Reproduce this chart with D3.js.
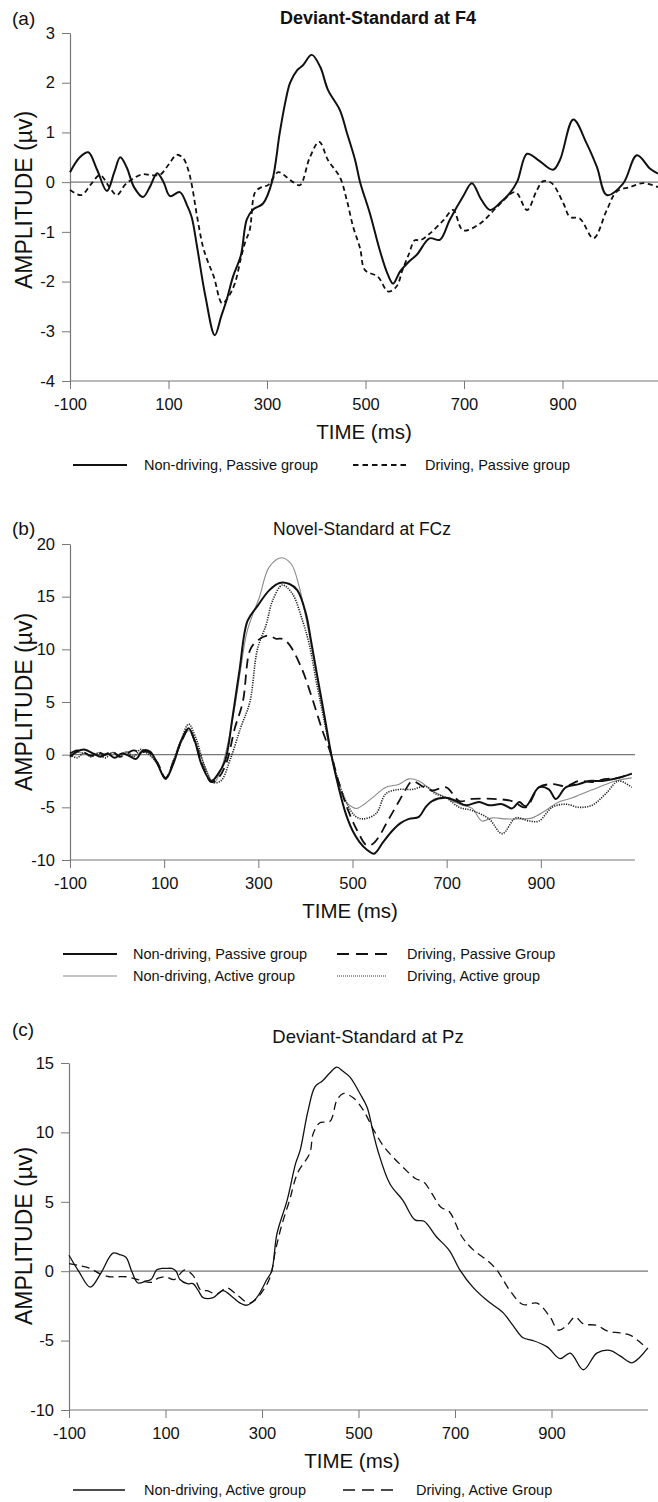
<!DOCTYPE html>
<html>
<head>
<meta charset="utf-8">
<script src="https://cdn.jsdelivr.net/npm/d3@7"></script>
<style>
  html, body { margin: 0; padding: 0; background: #fff; }
  svg { display: block; font-family: "Liberation Sans", Arial, sans-serif; }
  .axis path, .axis line { stroke: #777; }
  .axis text { fill: #111; font-size: 16.5px; }
</style>
</head>
<body>
<div id="chart"></div>
<script>
// ---- data (time in ms, amplitude in µV) ----
const xTicks = [-100, 100, 300, 500, 700, 900];

// (a) Deviant-Standard at F4
const aTicksY = [3, 2, 1, 0, -1, -2, -3, -4];
const aNonDrivingPassive = [
  [-100,0.2],[-80,0.5],[-63,0.6],[-45,0.25],[-25,-0.18],[-10,0.2],[2,0.5],[15,0.3],[30,-0.1],[48,-0.3],
  [62,-0.1],[77,0.18],[90,0.0],[103,-0.28],[123,-0.2],[137,-0.45],[147,-0.7],[158,-1.3],[175,-2.3],[194,-3.08],
  [207,-2.7],[218,-2.37],[231,-1.9],[247,-1.47],[259,-0.75],[272,-0.55],[292,-0.43],[310,0],[326,1.0],[337,1.6],
  [347,2.0],[361,2.25],[373,2.35],[391,2.56],[408,2.32],[424,1.85],[448,1.45],[462,1.0],[479,0.44],[489,0],
  [509,-0.63],[529,-1.37],[545,-1.85],[556,-2.04],[570,-1.8],[588,-1.6],[605,-1.45],[630,-1.13],[651,-1.16],[671,-0.76],
  [698,-0.29],[716,-0.02],[735,-0.35],[753,-0.56],[775,-0.4],[793,-0.22],[808,0.01],[828,0.57],[850,0.45],[881,0.25],
  [895,0.45],[922,1.26],[949,0.78],[970,0.3],[990,-0.26],[1023,-0.03],[1051,0.54],[1078,0.27],[1094,0.17]
];
const aDrivingPassive = [
  [-100,-0.16],[-77,-0.26],[-58,-0.05],[-39,0.14],[-20,-0.1],[-5,-0.26],[12,-0.05],[28,0.07],[48,0.16],[65,0.14],
  [83,0.15],[100,0.35],[117,0.55],[130,0.48],[140,0.25],[148,-0.09],[157,-0.63],[170,-1.3],[180,-1.6],[192,-1.9],
  [209,-2.44],[222,-2.3],[235,-2.03],[247,-1.53],[256,-1.2],[265,-0.96],[276,-0.2],[289,-0.1],[302,-0.06],[323,0.2],
  [340,0.1],[353,0],[367,-0.06],[387,0.5],[406,0.81],[424,0.44],[448,0.1],[462,-0.36],[475,-0.9],[489,-1.33],
  [499,-1.77],[525,-1.9],[546,-2.2],[563,-2.1],[575,-1.77],[588,-1.45],[600,-1.17],[611,-1.17],[631,-1.03],[658,-0.77],
  [678,-0.56],[698,-0.97],[733,-0.83],[767,-0.5],[804,-0.2],[828,-0.56],[848,-0.16],[861,0.02],[878,-0.02],[902,-0.43],
  [915,-0.7],[935,-0.73],[963,-1.13],[990,-0.56],[1010,-0.19],[1037,-0.1],[1064,-0.02],[1094,-0.1]
];

// (b) Novel-Standard at FCz
const bTicksY = [20, 15, 10, 5, 0, -5, -10];
const bNonDrivingPassive = [
  [-100,-0.2],[-85,0.3],[-70,0.5],[-50,0.1],[-35,-0.2],[-20,0.1],[-5,-0.3],[10,0.1],[25,-0.1],[40,-0.4],
  [55,0.4],[70,0.3],[85,-0.8],[103,-2.3],[120,-0.8],[135,1.2],[152,2.5],[165,1.3],[180,-1.0],[200,-2.5],
  [215,-1.8],[230,-0.5],[245,3.5],[260,8],[277,12.7],[298,14.1],[323,15.6],[345,16.3],[366,16.2],[383,15.6],
  [401,13.4],[412,10.8],[425,7.5],[440,3.8],[455,0],[470,-3.0],[485,-5.5],[500,-7.2],[515,-8.3],[530,-9.0],
  [546,-9.4],[565,-8.3],[585,-7.2],[602,-6.5],[620,-6.1],[641,-5.9],[655,-5.0],[669,-4.4],[699,-4.1],[720,-4.4],
  [741,-4.8],[769,-4.5],[790,-4.8],[818,-4.7],[839,-5.1],[854,-4.5],[868,-4.9],[896,-3.1],[917,-3.3],[932,-4.2],
  [953,-3.1],[981,-2.8],[1002,-2.5],[1030,-2.5],[1065,-2.2],[1093,-1.8]
];
const bDrivingPassive = [
  [-100,0.1],[-85,0.4],[-70,0.2],[-55,-0.1],[-40,0.2],[-25,0],[-10,0.3],[5,-0.2],[20,0.1],[35,0.4],
  [50,0.2],[65,0.3],[85,-0.7],[103,-2.2],[120,-0.6],[137,1.3],[152,2.4],[167,1.0],[183,-1.2],[200,-2.6],
  [215,-2.2],[232,-0.8],[250,2.5],[267,5],[283,10],[300,10.9],[321,11.3],[338,11],[351,11],[365,10.5],
  [391,8.3],[414,5.4],[436,2.3],[454,0.1],[470,-2.5],[490,-5.2],[510,-7.2],[530,-8.6],[542,-8.5],[556,-7.8],
  [571,-6.6],[585,-5.5],[599,-4.4],[613,-3.3],[627,-2.5],[648,-3.0],[669,-3.4],[699,-3.1],[727,-4.4],[754,-4.2],
  [797,-4.2],[839,-4.4],[868,-5],[896,-3.1],[924,-2.8],[953,-3.0],[981,-2.5],[1009,-2.6],[1038,-2.3],[1065,-2.2],
  [1093,-1.8]
];
const bNonDrivingActive = [
  [-100,-0.3],[-85,0.2],[-70,0.1],[-55,-0.2],[-40,0.2],[-25,-0.1],[-10,0.2],[5,0],[20,0.3],[35,-0.1],
  [50,0.2],[65,0.2],[85,-0.9],[103,-2.2],[120,-0.6],[137,1.2],[152,2.3],[170,0.8],[190,-1.5],[205,-2.7],
  [220,-1.5],[235,1.0],[250,4.5],[262,8],[275,11.5],[288,13.3],[302,14.9],[323,17.8],[349,18.7],[370,18.1],
  [387,15.9],[401,13],[418,9],[436,4.5],[454,0],[470,-2.8],[485,-4.4],[500,-5.0],[510,-5.1],[525,-4.7],
  [542,-4.1],[571,-3.1],[599,-2.8],[620,-2.3],[641,-2.5],[669,-3.4],[699,-4.1],[727,-4.7],[754,-5.1],[775,-6.3],
  [797,-6.0],[826,-6.1],[854,-6.1],[882,-6.0],[910,-5.3],[938,-4.5],[967,-4.1],[988,-3.7],[1023,-3.1],[1058,-2.5],
  [1093,-2.2]
];
const bDrivingActive = [
  [-100,0],[-85,-0.3],[-70,0.2],[-55,-0.2],[-40,0.1],[-25,-0.3],[-10,0.2],[5,-0.1],[20,0.2],[35,-0.2],
  [50,0.5],[65,0.1],[85,-0.8],[103,-2.3],[120,-0.5],[137,1.5],[152,2.9],[168,1.5],[185,-1.0],[203,-2.6],
  [220,-2.5],[240,-0.5],[262,2.5],[282,5],[298,10],[317,12.4],[330,14.6],[351,16.1],[372,15.3],[394,12.7],
  [408,10.5],[425,6.5],[440,3.2],[455,0],[470,-2.5],[490,-4.8],[505,-5.8],[521,-6.1],[550,-5.6],[571,-3.7],
  [599,-3.3],[627,-3.3],[655,-3.0],[676,-3.7],[699,-4.1],[727,-5.0],[754,-5.3],[790,-6.1],[818,-7.5],[847,-6.0],
  [875,-6.3],[896,-6.3],[924,-5.0],[953,-4.7],[981,-5.0],[1009,-4.8],[1038,-3.7],[1065,-2.5],[1093,-3.1]
];

// (c) Deviant-Standard at Pz
const cTicksY = [15, 10, 5, 0, -5, -10];
const cNonDrivingActive = [
  [-100,1.15],[-80,0.0],[-56,-1.15],[-35,-0.2],[-9,1.3],[5,1.2],[18,1.0],[30,0.0],[43,-0.85],[60,-0.7],
  [70,-0.6],[82,0.1],[92,0.2],[102,0.2],[113,0.2],[122,0.0],[130,-0.6],[145,-0.9],[157,-0.9],[168,-1.4],
  [178,-1.9],[199,-1.9],[219,-1.4],[240,-1.9],[255,-2.3],[269,-2.45],[289,-1.9],[310,-0.6],[320,0],[331,2.7],
  [352,5.1],[370,7.8],[379,8.7],[395,11.5],[410,13.3],[425,13.7],[441,14.3],[455,14.7],[468,14.4],[482,14.0],
  [503,12.8],[518,11.8],[531,9.9],[540,8.7],[565,6.3],[592,5.1],[617,3.7],[636,3.6],[661,2.5],[688,1.5],
  [710,0.1],[737,-1.15],[766,-2.1],[800,-3.0],[820,-3.9],[841,-4.8],[862,-5.0],[891,-5.45],[918,-6.3],[939,-5.9],
  [966,-7.1],[994,-5.9],[1021,-5.7],[1042,-6.1],[1067,-6.6],[1083,-6.2],[1098,-5.6]
];
const cDrivingActive = [
  [-100,0.55],[-78,0.4],[-56,0.2],[-35,-0.2],[-17,-0.4],[0,-0.4],[18,-0.4],[43,-0.6],[70,-0.8],[85,-0.5],
  [100,-0.4],[118,-0.6],[140,0.1],[157,-0.3],[174,-1.4],[186,-1.4],[206,-1.65],[227,-1.2],[248,-1.7],[275,-2.3],
  [302,-1.4],[317,-0.4],[328,1.5],[340,3.2],[357,5.1],[374,7.1],[399,8.5],[406,9.9],[420,10.7],[441,10.8],
  [455,12.3],[468,12.8],[489,12.5],[510,11.6],[531,10.2],[552,9.0],[572,8.2],[592,7.5],[617,6.7],[636,6.4],
  [652,5.6],[671,4.6],[688,4.3],[714,2.5],[739,1.5],[766,0.8],[787,0.07],[814,-1.4],[841,-2.4],[870,-2.3],
  [897,-3.3],[914,-4.25],[932,-3.9],[949,-3.3],[966,-3.8],[994,-3.9],[1015,-4.3],[1042,-4.45],[1063,-4.6],[1083,-5.1],
  [1100,-5.6]
];

// ---- styles ----
const styles = {
  aSolid: { stroke: "#111", width: 2, dash: null },
  aDash: { stroke: "#111", width: 1.8, dash: "5,3.5" },
  bSolid: { stroke: "#111", width: 2, dash: null },
  bDash: { stroke: "#111", width: 1.8, dash: "10,6" },
  bGray: { stroke: "#8a8a8a", width: 1.1, dash: null },
  bDot: { stroke: "#222", width: 1.6, dash: "1.2,1.2" },
  cSolid: { stroke: "#111", width: 1.3, dash: null },
  cDash: { stroke: "#111", width: 1.3, dash: "8,5" }
};

const panels = [
  {
    tag: "(a)", title: "Deviant-Standard at F4", bold: true, titleSize: 18, titleX: 378, titleY: 24, tagY: 25,
    x0: 70, x1: 661, yTop: 33, yBottom: 381, yDomain: [-4, 3], yTicks: aTicksY, zeroEnd: 658,
    timeX: 364, yLabelY: 200,
    series: [
      { data: aNonDrivingPassive, style: styles.aSolid },
      { data: aDrivingPassive, style: styles.aDash }
    ],
    legend: [
      { x: 73, y: 465, len: 54, tx: 144, label: "Non-driving, Passive group", style: styles.aSolid },
      { x: 353, y: 465, len: 54, tx: 425, label: "Driving, Passive group", style: { stroke: "#111", width: 1.8, dash: "5.5,4" } }
    ]
  },
  {
    tag: "(b)", title: "Novel-Standard at FCz", bold: false, titleSize: 17.5, titleX: 362, titleY: 535, tagY: 535,
    x0: 70, x1: 635, yTop: 544, yBottom: 860, yDomain: [-10, 20], yTicks: bTicksY, zeroEnd: 635,
    timeX: 350, yLabelY: 702,
    series: [
      { data: bNonDrivingActive, style: styles.bGray },
      { data: bDrivingActive, style: styles.bDot },
      { data: bDrivingPassive, style: styles.bDash },
      { data: bNonDrivingPassive, style: styles.bSolid }
    ],
    legend: [
      { x: 63, y: 954, len: 54, tx: 133, label: "Non-driving, Passive group", style: styles.bSolid },
      { x: 337, y: 954, len: 50, tx: 407, label: "Driving, Passive Group", style: { stroke: "#111", width: 1.8, dash: "12,7" } },
      { x: 63, y: 976, len: 54, tx: 133, label: "Non-driving, Active group", style: styles.bGray },
      { x: 337, y: 976, len: 50, tx: 407, label: "Driving, Active group", style: { stroke: "#333", width: 1.2, dash: "1,1" } }
    ]
  },
  {
    tag: "(c)", title: "Deviant-Standard at Pz", bold: false, titleSize: 18.5, titleX: 368, titleY: 1043, tagY: 1036,
    x0: 69, x1: 648, yTop: 1063, yBottom: 1410, yDomain: [-10, 15], yTicks: cTicksY, zeroEnd: 648,
    timeX: 352, yLabelY: 1236,
    series: [
      { data: cNonDrivingActive, style: styles.cSolid },
      { data: cDrivingActive, style: styles.cDash }
    ],
    legend: [
      { x: 73, y: 1490, len: 52, tx: 144, label: "Non-driving, Active group", style: styles.cSolid },
      { x: 343, y: 1490, len: 50, tx: 416, label: "Driving, Active Group", style: { stroke: "#111", width: 1.5, dash: "12,7" } }
    ]
  }
];

const svg = d3.select("#chart")
  .append("svg")
  .attr("width", 658)
  .attr("height", 1502);

function applyStyle(sel, style) {
  sel.attr("fill", "none")
    .attr("stroke", style.stroke)
    .attr("stroke-width", style.width)
    .attr("stroke-linejoin", "round")
    .attr("stroke-dasharray", style.dash);
}

// plain hyphen minus, integers only, as in the original figure
const fmt = (d) => `${d}`;

panels.forEach((p) => {
  const g = svg.append("g");

  const x = d3.scaleLinear().domain([-100, 1100]).range([p.x0, p.x1]);
  const y = d3.scaleLinear().domain(p.yDomain).range([p.yBottom, p.yTop]);

  // zero reference line
  g.append("line")
    .attr("x1", p.x0).attr("x2", p.zeroEnd)
    .attr("y1", y(0)).attr("y2", y(0))
    .attr("stroke", "#777").attr("stroke-width", 1.2);

  // axes
  g.append("g")
    .attr("class", "axis")
    .attr("transform", `translate(0,${p.yBottom})`)
    .call(d3.axisBottom(x).tickValues(xTicks).tickFormat(fmt).tickSize(8).tickPadding(9).tickSizeOuter(0))
    .call((s) => s.select(".domain").attr("d", `M${p.x0},0H${Math.min(p.x1, 658)}`).attr("stroke-width", 1.2));

  g.append("g")
    .attr("class", "axis")
    .attr("transform", `translate(${p.x0},0)`)
    .call(d3.axisLeft(y).tickValues(p.yTicks).tickFormat(fmt).tickSize(8).tickPadding(7).tickSizeOuter(0))
    .call((s) => s.select(".domain").attr("stroke-width", 1.2));

  // waveforms
  const line = d3.line()
    .x((d) => x(d[0]))
    .y((d) => y(d[1]))
    .curve(d3.curveCatmullRom.alpha(0.5));

  p.series.forEach((s) => {
    g.append("path").datum(s.data).attr("d", line).call(applyStyle, s.style);
  });

  // titles and labels
  g.append("text")
    .attr("x", 12).attr("y", p.tagY)
    .attr("font-size", 19).attr("fill", "#111")
    .text(p.tag);

  g.append("text")
    .attr("x", p.titleX).attr("y", p.titleY)
    .attr("text-anchor", "middle")
    .attr("font-size", p.titleSize)
    .attr("font-weight", p.bold ? "bold" : "normal")
    .attr("fill", "#111")
    .text(p.title);

  g.append("text")
    .attr("x", p.timeX).attr("y", p.yBottom + 58)
    .attr("text-anchor", "middle")
    .attr("font-size", 20.5).attr("fill", "#111")
    .text("TIME (ms)");

  g.append("text")
    .attr("transform", `translate(32,${p.yLabelY}) rotate(-90)`)
    .attr("text-anchor", "middle")
    .attr("font-size", 23).attr("fill", "#111")
    .text("AMPLITUDE (µv)");

  // legend
  p.legend.forEach((l) => {
    g.append("line")
      .attr("x1", l.x).attr("x2", l.x + l.len)
      .attr("y1", l.y).attr("y2", l.y)
      .call(applyStyle, l.style);
    g.append("text")
      .attr("x", l.tx).attr("y", l.y + 5)
      .attr("font-size", 14.5).attr("fill", "#111")
      .text(l.label);
  });
});
</script>
</body>
</html>
